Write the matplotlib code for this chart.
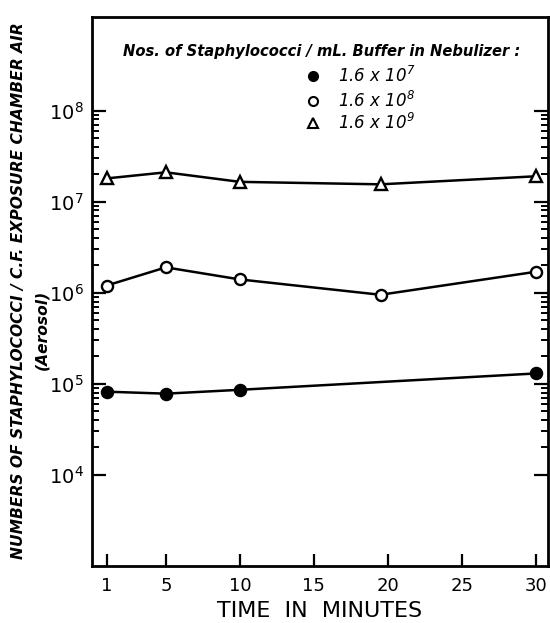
import numpy as np
import matplotlib.pyplot as plt
from matplotlib.ticker import NullFormatter, FixedLocator

# time points (minutes)
t_low = [1, 5, 10, 30]
t_mid = [1, 5, 10, 19.5, 30]
t_high = [1, 5, 10, 19.5, 30]

# staphylococci per C.F. of chamber air
low = [8.2e4, 7.8e4, 8.6e4, 1.3e5]           # 1.6 x 10^7 in nebulizer
mid = [1.2e6, 1.9e6, 1.4e6, 9.5e5, 1.7e6]    # 1.6 x 10^8
high = [1.8e7, 2.1e7, 1.65e7, 1.55e7, 1.9e7] # 1.6 x 10^9

xticks = [1, 5, 10, 15, 20, 25, 30]
ydecades = [4, 5, 6, 7, 8]

plt.rcParams['font.family'] = ['DejaVu Sans']

fig = plt.figure(figsize=(5.5, 6.23), dpi=100)
ax = fig.add_axes([0.167, 0.0915, 0.829, 0.8815])

kw = dict(color='black', lw=1.8, markersize=8, markeredgewidth=1.7)
ax.plot(t_low, low, marker='o', mfc='black', **kw)
ax.plot(t_mid, mid, marker='o', mfc='white', **kw)
ax.plot(t_high, high, marker='^', mfc='white', **kw)

ax.set_yscale('log')
ax.set_ylim(1e3, 1.07e9)
ax.set_xlim(0, 30.8)

ax.set_xticks(xticks)
ax.set_xticklabels([str(v) for v in xticks], fontsize=13)
ax.yaxis.set_major_locator(FixedLocator([10.0 ** d for d in ydecades]))
ax.set_yticklabels([r'$\mathregular{10^{%d}}$' % d for d in ydecades], fontsize=14)
ax.yaxis.set_minor_locator(FixedLocator(
    [m * 10.0 ** d for d in range(4, 8) for m in range(2, 10)]))
ax.yaxis.set_minor_formatter(NullFormatter())

ax.tick_params(axis='x', direction='in', length=9, width=1.6, top=False, pad=8)
ax.tick_params(axis='y', which='major', direction='in', length=10, width=1.6,
               right=True, pad=6)
ax.tick_params(axis='y', which='minor', direction='in', length=5, width=1.4,
               right=True)
for s in ax.spines.values():
    s.set_linewidth(2)

ax.set_xlabel('TIME  IN  MINUTES', fontsize=16, labelpad=4)
fig.text(0.033, 0.533, 'NUMBERS OF STAPHYLOCOCCI / C.F. EXPOSURE CHAMBER AIR',
         rotation=90, fontsize=11.2, style='italic', fontweight='bold',
         ha='center', va='center')
fig.text(0.076, 0.47, '(Aerosol)', rotation=90, fontsize=11.2, style='italic',
         fontweight='bold', ha='center', va='center')

# legend drawn as text block
ax.text(0.505, 0.936, 'Nos. of Staphylococci / mL. Buffer in Nebulizer :',
        transform=ax.transAxes, ha='center', va='center', fontsize=10.6,
        style='italic', fontweight='bold')
labels = [r'1.6 x $\mathregular{10^{7}}$', r'1.6 x $\mathregular{10^{8}}$',
          r'1.6 x $\mathregular{10^{9}}$']
markers = [('o', 'black'), ('o', 'white'), ('^', 'white')]
rows = [0.892, 0.847, 0.806]
for lab, (m, fc), yy in zip(labels, markers, rows):
    ax.plot([0.485], [yy], transform=ax.transAxes, marker=m, mfc=fc, mec='black',
            markersize=6.5, markeredgewidth=1.5, ls='none', clip_on=False)
    ax.text(0.54, yy, lab, transform=ax.transAxes, ha='left', va='center',
            fontsize=12, style='italic')

fig.savefig('out.png', dpi=100)
